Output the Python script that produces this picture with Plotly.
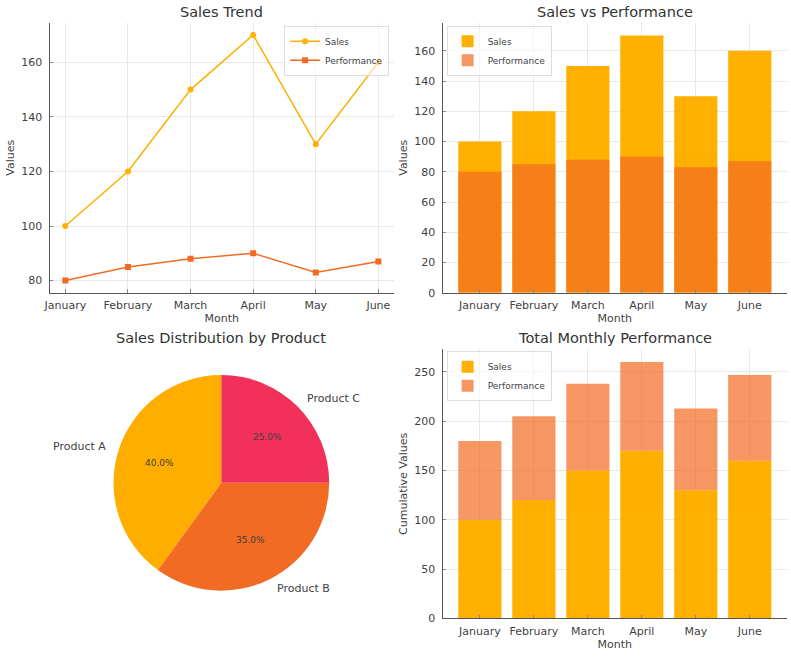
import math
import plotly.graph_objects as go

# ---------------- data ----------------
months = ["January", "February", "March", "April", "May", "June"]
sales = [100, 120, 150, 170, 130, 160]
performance = [80, 85, 88, 90, 83, 87]
products = ["Product A", "Product B", "Product C"]
product_share = [40, 35, 25]

# ---------------- style ----------------
W, H = 791, 661
SALES_C = "#FFB000"
PERF_C = "#F26B22"
PIE_COLORS = ["#FFAE00", "#F26B22", "#F2315A"]
TXT = "#3f3f3f"
TITLE_C = "#333333"
FONT = "DejaVu Sans"


def px_x(x):
    return x / W


def px_y(y):
    return 1 - y / H


# subplot boxes in pixels (left, right, top, bottom)
B1 = (44, 391, 23, 296)
B2 = (440, 787, 23, 296)
B3 = (440, 787, 353, 625)
PIE_CX, PIE_CY, PIE_R = 217, 488, 109


def axis_style(**kw):
    d = dict(
        showgrid=True, gridcolor="#e8e8e8", gridwidth=1,
        showline=True, linecolor="#555555", linewidth=1.2,
        zeroline=False, ticks="inside", ticklen=3.5, tickwidth=1,
        tickcolor="#888888", ticklabelstandoff=4,
        tickfont=dict(size=11, color=TXT, family=FONT),
        title_font=dict(size=11, color=TXT, family=FONT),
        mirror=False,
    )
    d.update(kw)
    return d


fig = go.Figure()

# ---- top-left: line chart ----
fig.add_trace(go.Scatter(
    x=months, y=sales, mode="lines+markers", name="Sales",
    line=dict(color=SALES_C, width=1.5),
    marker=dict(color=SALES_C, size=6, symbol="circle"),
    xaxis="x", yaxis="y", legend="legend"))
fig.add_trace(go.Scatter(
    x=months, y=performance, mode="lines+markers", name="Performance",
    line=dict(color=PERF_C, width=1.5),
    marker=dict(color=PERF_C, size=6, symbol="square"),
    xaxis="x", yaxis="y", legend="legend"))

# ---- top-right: overlaid bars ----
fig.add_trace(go.Bar(
    x=months, y=sales, name="Sales", marker=dict(color=SALES_C, line=dict(width=0)),
    width=0.8, xaxis="x2", yaxis="y2", legend="legend2"))
fig.add_trace(go.Bar(
    x=months, y=performance, name="Performance",
    marker=dict(color=PERF_C, line=dict(width=0)), opacity=0.7,
    width=0.8, xaxis="x2", yaxis="y2", legend="legend2"))

# ---- bottom-right: stacked bars ----
fig.add_trace(go.Bar(
    x=months, y=sales, name="Sales", marker=dict(color=SALES_C, line=dict(width=0)),
    width=0.8, xaxis="x3", yaxis="y3", legend="legend3"))
fig.add_trace(go.Bar(
    x=months, y=performance, base=sales, name="Performance",
    marker=dict(color=PERF_C, line=dict(width=0)), opacity=0.7,
    width=0.8, xaxis="x3", yaxis="y3", legend="legend3"))

# ---- bottom-left: pie ----
total = sum(product_share)
fig.add_trace(go.Pie(
    labels=products, values=product_share, sort=False,
    direction="counterclockwise",
    rotation=-360.0 * product_share[0] / total,
    marker=dict(colors=PIE_COLORS, line=dict(width=0)),
    textinfo="none", showlegend=False,
    domain=dict(x=[px_x(PIE_CX - PIE_R), px_x(PIE_CX + PIE_R)],
                y=[px_y(PIE_CY + PIE_R), px_y(PIE_CY - PIE_R)])))

annotations = []
start = 90.0
for lab, v in zip(products, product_share):
    span = 360.0 * v / total
    mid = math.radians(start + span / 2)
    start += span
    c, s = math.cos(mid), math.sin(mid)
    # outer label
    annotations.append(dict(
        x=px_x(PIE_CX + 1.1 * PIE_R * c), y=px_y(PIE_CY - 1.1 * PIE_R * s),
        xref="paper", yref="paper", text=lab, showarrow=False,
        xanchor="right" if c < 0 else "left", yanchor="middle",
        font=dict(size=11, color=TXT, family=FONT)))
    # percentage
    annotations.append(dict(
        x=px_x(PIE_CX + 0.6 * PIE_R * c), y=px_y(PIE_CY - 0.6 * PIE_R * s),
        xref="paper", yref="paper", text=f"{100.0 * v / total:.1f}%",
        showarrow=False, xanchor="center", yanchor="middle",
        font=dict(size=9, color=TXT, family=FONT)))

# titles
for text, cx, top in [
    ("Sales Trend", (B1[0] + B1[1]) / 2, B1[2]),
    ("Sales vs Performance", (B2[0] + B2[1]) / 2, B2[2]),
    ("Sales Distribution by Product", PIE_CX, B3[2]),
    ("Total Monthly Performance", (B3[0] + B3[1]) / 2, B3[2]),
]:
    annotations.append(dict(
        x=px_x(cx), y=px_y(top), xref="paper", yref="paper", text=text,
        showarrow=False, xanchor="center", yanchor="bottom", yshift=1,
        font=dict(size=14.5, color=TITLE_C, family=FONT)))

legend_style = dict(
    bgcolor="rgba(255,255,255,0.6)", bordercolor="#dddddd", borderwidth=1,
    font=dict(size=9, color=TXT, family=FONT), xref="paper", yref="paper",
    yanchor="top", tracegroupgap=0, itemwidth=30)

fig.update_layout(
    width=W, height=H, margin=dict(l=0, r=0, t=0, b=0),
    paper_bgcolor="white", plot_bgcolor="white",
    font=dict(family=FONT, color=TXT),
    barmode="overlay", bargap=0.2,
    xaxis=axis_style(domain=[px_x(B1[0]), px_x(B1[1])], anchor="y",
                     range=[-0.25, 5.25], ticklabelstandoff=2,
                     title=dict(text="Month", standoff=0)),
    yaxis=axis_style(domain=[px_y(B1[3]), px_y(B1[2])], anchor="x",
                     range=[75.5, 174.5], dtick=20, tick0=0,
                     title=dict(text="Values", standoff=4)),
    xaxis2=axis_style(domain=[px_x(B2[0]), px_x(B2[1])], anchor="y2",
                      range=[-0.69, 5.69], ticklabelstandoff=2,
                      title=dict(text="Month", standoff=0)),
    yaxis2=axis_style(domain=[px_y(B2[3]), px_y(B2[2])], anchor="x2",
                      range=[0, 178.5], dtick=20, tick0=0,
                      title=dict(text="Values", standoff=4)),
    xaxis3=axis_style(domain=[px_x(B3[0]), px_x(B3[1])], anchor="y3",
                      range=[-0.69, 5.69], ticklabelstandoff=2,
                      title=dict(text="Month", standoff=0)),
    yaxis3=axis_style(domain=[px_y(B3[3]), px_y(B3[2])], anchor="x3",
                      range=[0, 273], dtick=50, tick0=0,
                      title=dict(text="Cumulative Values", standoff=4)),
    legend=dict(legend_style, x=px_x(386), xanchor="right", y=px_y(26)),
    legend2=dict(legend_style, x=px_x(444), xanchor="left", y=px_y(26)),
    legend3=dict(legend_style, x=px_x(444), xanchor="left", y=px_y(355)),
    annotations=annotations,
)

fig.write_html("out.html", config={"displayModeBar": False},
               post_script="document.body.style.margin='0';")
